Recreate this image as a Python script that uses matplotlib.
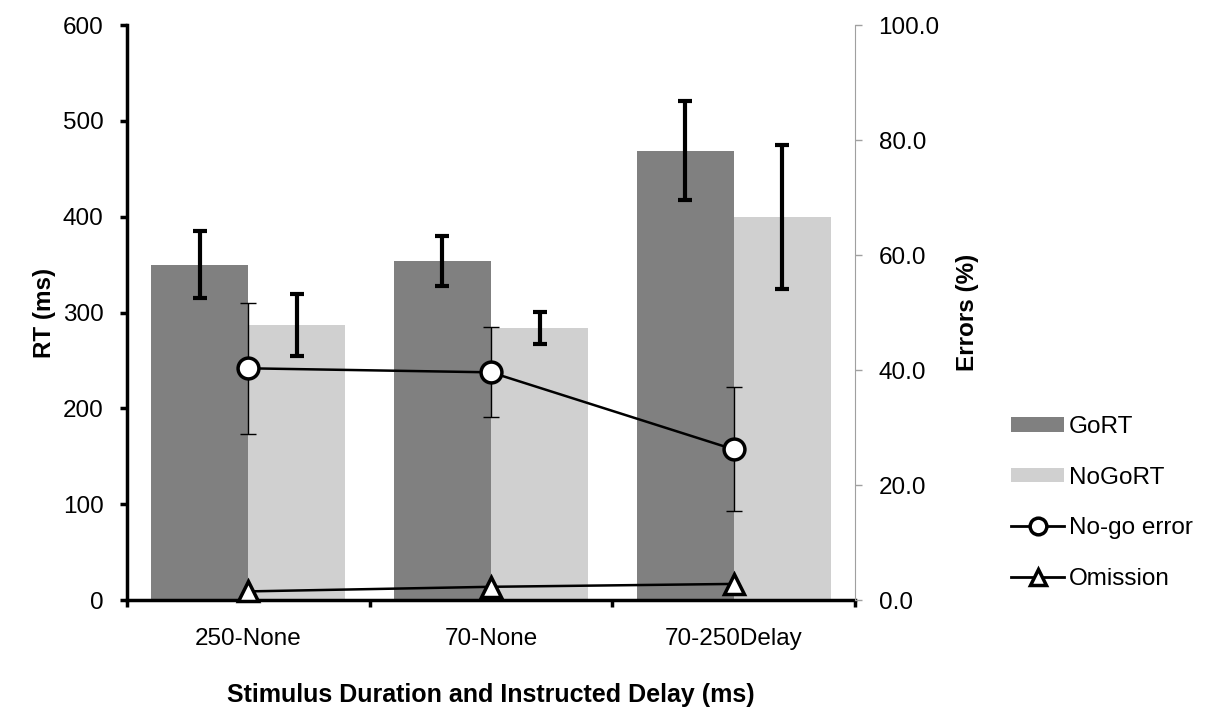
import numpy as np
import matplotlib.pyplot as plt
from matplotlib.patches import Patch
from matplotlib.lines import Line2D

plt.rcParams['font.family'] = ['Liberation Sans', 'DejaVu Sans']

# data
categories = ['250-None', '70-None', '70-250Delay']
go_rt = [350, 354, 469]
go_rt_err = [35, 26, 52]
nogo_rt = [287, 284, 400]
nogo_rt_err = [32, 17, 75]
nogo_error = [40.3, 39.6, 26.2]
nogo_error_err = [11.4, 7.8, 10.8]
omission = [1.5, 2.3, 2.8]

x = np.arange(len(categories))
w = 0.4
fs = 17.5

fig = plt.figure(figsize=(12.12, 7.09), dpi=100)
ax1 = fig.add_axes([0.1048, 0.1537, 0.6006, 0.811])

ax1.bar(x - w/2, go_rt, w, color='#808080', zorder=1)
ax1.bar(x + w/2, nogo_rt, w, color='#d0d0d0', zorder=1)
ax1.errorbar(x - w/2, go_rt, yerr=go_rt_err, fmt='none', ecolor='k',
             elinewidth=3, capsize=5, capthick=3, zorder=3)
ax1.errorbar(x + w/2, nogo_rt, yerr=nogo_rt_err, fmt='none', ecolor='k',
             elinewidth=3, capsize=5, capthick=3, zorder=3)

ax1.set_xlim(-0.5, 2.5)
ax1.set_ylim(0, 600)
ax1.set_yticks(range(0, 601, 100))
ax1.set_xticks(x)
ax1.set_xticklabels(categories)
ax1.set_xticks([-0.5, 0.5, 1.5, 2.5], minor=True)
ax1.tick_params(axis='x', which='major', length=0, pad=20, labelsize=fs)
ax1.tick_params(axis='x', which='minor', length=5, width=2.5, direction='out')
ax1.tick_params(axis='y', length=5, width=2.5, direction='out', labelsize=fs, pad=12)
for s in ['left', 'bottom']:
    ax1.spines[s].set_linewidth(2.5)
ax1.spines['top'].set_visible(False)
ax1.spines['right'].set_visible(False)
ax1.set_ylabel('RT (ms)', fontweight='bold', fontsize=fs, labelpad=5)
ax1.set_xlabel('Stimulus Duration and Instructed Delay (ms)', fontweight='bold',
               fontsize=18, labelpad=24)

ax2 = ax1.twinx()
ax2.errorbar(x, nogo_error, yerr=nogo_error_err, fmt='none', ecolor='k',
             elinewidth=1, capsize=6, capthick=1, zorder=2)
ax2.plot(x, nogo_error, color='k', lw=1.8, marker='o', markersize=15,
         markerfacecolor='white', markeredgecolor='k', markeredgewidth=2.5, zorder=4)
ax2.plot(x, omission, color='k', lw=1.8, marker='^', markersize=15,
         markerfacecolor='white', markeredgecolor='k', markeredgewidth=2.5,
         zorder=4, clip_on=False)
ax2.set_ylim(0, 100)
ax2.set_yticks(range(0, 101, 20))
ax2.set_yticklabels(['%.1f' % v for v in range(0, 101, 20)])
ax2.tick_params(axis='y', length=5, width=1, color='#a0a0a0', direction='out',
                labelsize=fs, pad=12)
ax2.spines['right'].set_color('#a0a0a0')
ax2.spines['top'].set_visible(False)
ax2.spines['left'].set_visible(False)
ax2.spines['bottom'].set_visible(False)
ax2.set_ylabel('Errors (%)', fontweight='bold', fontsize=fs, labelpad=12)

handles = [
    Patch(facecolor='#808080', label='GoRT'),
    Patch(facecolor='#d0d0d0', label='NoGoRT'),
    Line2D([], [], color='k', lw=2, marker='o', markersize=12, markerfacecolor='white',
           markeredgewidth=2.5, label='No-go error'),
    Line2D([], [], color='k', lw=2, marker='^', markersize=12, markerfacecolor='white',
           markeredgewidth=2.5, label='Omission'),
]
fig.legend(handles=handles, loc='center left', bbox_to_anchor=(0.816, 0.2906),
           frameon=False, fontsize=fs, handlelength=2.2, handleheight=0.55,
           handletextpad=0.2, labelspacing=1.17)

fig.savefig('out.png', dpi=100)
